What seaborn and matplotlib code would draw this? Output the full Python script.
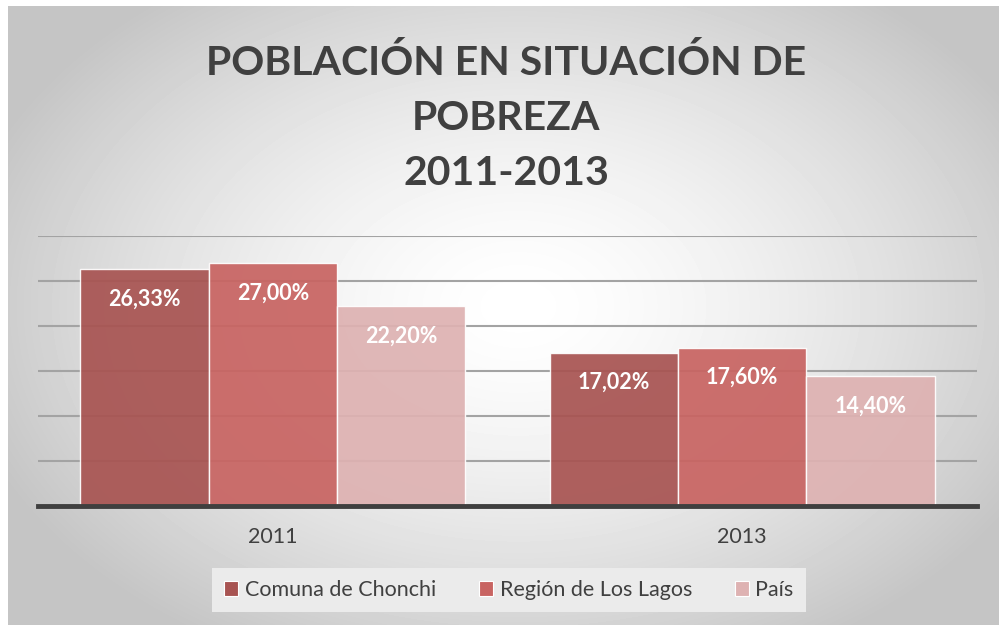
import numpy as np
import pandas as pd
import matplotlib
matplotlib.use('Agg')
import matplotlib.pyplot as plt
import seaborn as sns

# datos
anios = ['2011', '2013']
series = ['Comuna de Chonchi', 'Región de Los Lagos', 'País']
chonchi = [26.33, 17.02]
lagos = [27.00, 17.60]
pais = [22.20, 14.40]
colores = ['#a85452', '#c86462', '#deb2b2']

df = pd.DataFrame({
    'anio': anios * 3,
    'serie': [series[0]] * 2 + [series[1]] * 2 + [series[2]] * 2,
    'valor': chonchi + lagos + pais,
})

sns.set_style('white')
plt.rcParams['font.family'] = ['Lato', 'DejaVu Sans']

fig = plt.figure(figsize=(9.99, 6.25), dpi=100)

# fondo con degradado radial
bg = fig.add_axes([8 / 999, 0, 1 - 8 / 999, 1 - 6 / 625], zorder=-10)
yy, xx = np.mgrid[0:619, 0:991]
r = np.sqrt(((xx - 510) / 640.0) ** 2 + ((yy - 300) / 440.0) ** 2)
val = np.clip(1.0 - 0.27 * r ** 1.5, 0.77, 1.0)
bg.imshow(val, cmap='gray', vmin=0, vmax=1, aspect='auto', interpolation='bilinear')
bg.axis('off')

ax = fig.add_axes([38 / 999, 1 - 506 / 625, (977 - 38) / 999, (506 - 236) / 625])
ax.patch.set_alpha(0)

sns.barplot(data=df, x='anio', y='valor', hue='serie', palette=colores,
            width=0.82, gap=0, edgecolor='white', linewidth=1, alpha=0.93,
            saturation=1, ax=ax, legend=False)

for cont, vals in zip(ax.containers, [chonchi, lagos, pais]):
    etiquetas = [f'{v:.2f}%'.replace('.', ',') for v in vals]
    ax.bar_label(cont, labels=etiquetas, padding=-29, color='white',
                 fontsize=15.5, fontweight='bold')

ax.set_ylim(0, 30)
ax.set_xlim(-0.5, 1.5)
ax.set_yticks([5, 10, 15, 20, 25, 30])
ax.yaxis.grid(True, color='#a3a3a3', linewidth=1.5)
ax.set_axisbelow(True)
ax.set_yticklabels([])
ax.tick_params(axis='y', length=0)
ax.tick_params(axis='x', length=0, labelsize=15.5, labelcolor='#404040', pad=15)
ax.set_xlabel('')
ax.set_ylabel('')
for s in ['top', 'right', 'left']:
    ax.spines[s].set_visible(False)
ax.spines['bottom'].set_color('#3f3f3f')
ax.spines['bottom'].set_linewidth(3.5)

fig.text(0.507, 1 - 118 / 625, 'POBLACIÓN EN SITUACIÓN DE\nPOBREZA\n2011-2013',
         ha='center', va='center', fontsize=29.5, fontweight='bold',
         color='#404040', linespacing=1.6)

handles = [plt.Rectangle((0, 0), 1, 1, facecolor=c, edgecolor='white', linewidth=0.8)
           for c in colores]
leg = fig.legend(handles, series, loc='center', bbox_to_anchor=(509 / 999, 1 - 590 / 625),
                 ncol=3, frameon=True, fontsize=15.5, handlelength=0.65, handleheight=0.65,
                 handletextpad=0.3, columnspacing=2.0, borderpad=0.55)
leg.get_frame().set_facecolor('#ebebeb')
leg.get_frame().set_edgecolor('none')
leg.get_frame().set_alpha(1)
leg.get_frame().set_boxstyle('square', pad=0)
for t in leg.get_texts():
    t.set_color('#404040')

fig.savefig('out.png', dpi=100)
